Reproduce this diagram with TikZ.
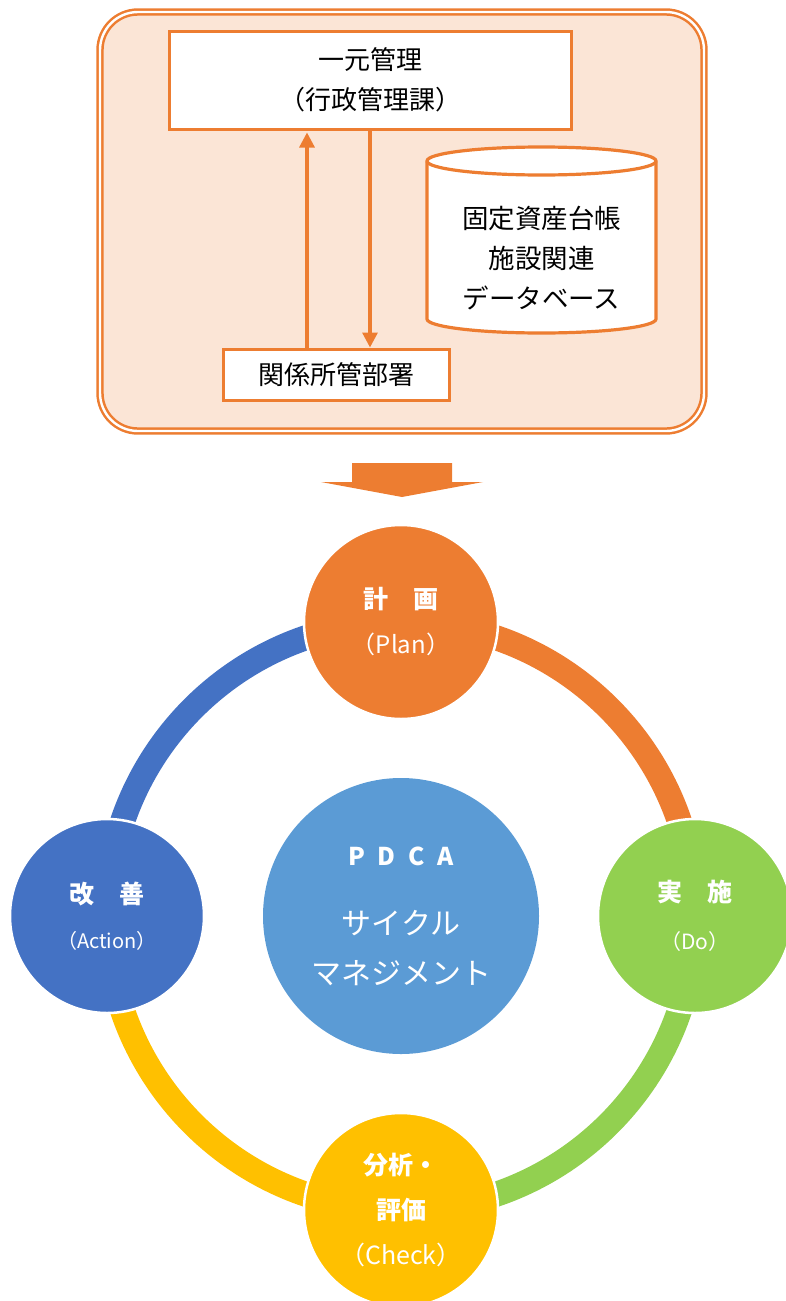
\documentclass[tikz,border=0pt]{standalone}
\usepackage{fontspec}
\setmainfont{Noto Sans CJK JP}
\usetikzlibrary{arrows.meta}
\definecolor{orn}{HTML}{ED7D31}
\definecolor{peach}{HTML}{FBE5D6}
\definecolor{bl}{HTML}{4472C4}
\definecolor{lbl}{HTML}{5B9BD5}
\definecolor{grn}{HTML}{92D050}
\definecolor{yel}{HTML}{FFC000}
\begin{document}
\begin{tikzpicture}[x=1pt,y=1pt,
  box/.style={draw=orn, line width=3pt, fill=white, align=center, inner sep=0pt},
  arr/.style={orn, line width=3.2pt, -{Triangle[width=15pt,length=15pt]}},
  ringarc/.style={line width=25pt},
  pdc/.style={circle, draw=white, line width=2.5pt, minimum size=194, text=white, align=center, inner sep=0pt},
  ]
\useasboundingbox (0,0) rectangle (785,-1301);
% outer container
\draw[orn, line width=2.5pt, double=white, double distance=2.4pt, fill=peach, rounded corners=38pt]
  (100,-12) rectangle (704,-431);
\node[box, minimum width=402, minimum height=98, font=\fontsize{26}{40}\selectfont] (mgmt) at (370,-80) {一元管理\\（行政管理課）};
\node[box, minimum width=226, minimum height=51, font=\fontsize{26}{30}\selectfont] (dept) at (336,-374.5) {関係所管部署};
\coordinate (ux) at (307,0);
\coordinate (dx) at (370,0);
\draw[arr, shorten >=2pt] (dept.north -| ux) -- (mgmt.south -| ux);
\draw[arr] (mgmt.south -| dx) -- (dept.north -| dx);
% database cylinder
\draw[orn, line width=3.2pt, fill=white] (427,-161) -- (427,-319)
  arc[start angle=180, end angle=360, x radius=114.5pt, y radius=14pt] -- (656,-161)
  arc[start angle=0, end angle=180, x radius=114.5pt, y radius=14pt] -- cycle;
\draw[orn, line width=3.2pt] (427,-161) arc[start angle=180, end angle=360, x radius=114.5pt, y radius=14pt];
\node[align=center, font=\fontsize{26.5}{40}\selectfont] (db) at (541.5,-258) {固定資産台帳\\施設関連\\データベース};
% big arrow
\fill[orn] (352,-463) -- (452,-463) -- (452,-482) -- (483,-482) -- (402,-497) -- (321,-482) -- (352,-482) -- cycle;
% ring
\coordinate (ring) at (401,-916);
\draw[bl, ringarc] (107,-916) arc[start angle=180, end angle=90, radius=294pt];
\draw[orn, ringarc] (401,-622) arc[start angle=90, end angle=0, radius=294pt];
\draw[grn, ringarc] (695,-916) arc[start angle=0, end angle=-90, radius=294pt];
\draw[yel, ringarc] (401,-1210) arc[start angle=-90, end angle=-180, radius=294pt];
% center
\node[circle, fill=lbl, minimum size=276, text=white, align=center, inner sep=0pt, font=\fontsize{30}{50}\selectfont] (core) at (ring)
  {{\fontsize{24.5}{30}\selectfont\bfseries P\hspace{12.5pt}D\hspace{12.5pt}C\hspace{12.5pt}A}\\[19pt]サイクル\\マネジメント};
% PDCA circles
\node[pdc, fill=orn, font=\fontsize{25}{45}\selectfont] (plan) at (401,-622) {{\bfseries 計　画}\\{\fontsize{24}{30}\selectfont （Plan）}};
\node[pdc, fill=grn, font=\fontsize{25}{48}\selectfont] (do) at (695,-916) {{\bfseries 実　施}\\{\fontsize{21}{30}\selectfont （Do）}};
\node[pdc, fill=yel, font=\fontsize{25}{45}\selectfont] (check) at (401,-1210) {{\bfseries 分析・}\\{\bfseries 評価}\\{\fontsize{25}{30}\selectfont （Check）}};
\node[pdc, fill=bl, font=\fontsize{25}{45}\selectfont] (act) at (107,-916) {{\bfseries 改　善}\\{\fontsize{20}{30}\selectfont （Action）}};
\end{tikzpicture}
\end{document}
